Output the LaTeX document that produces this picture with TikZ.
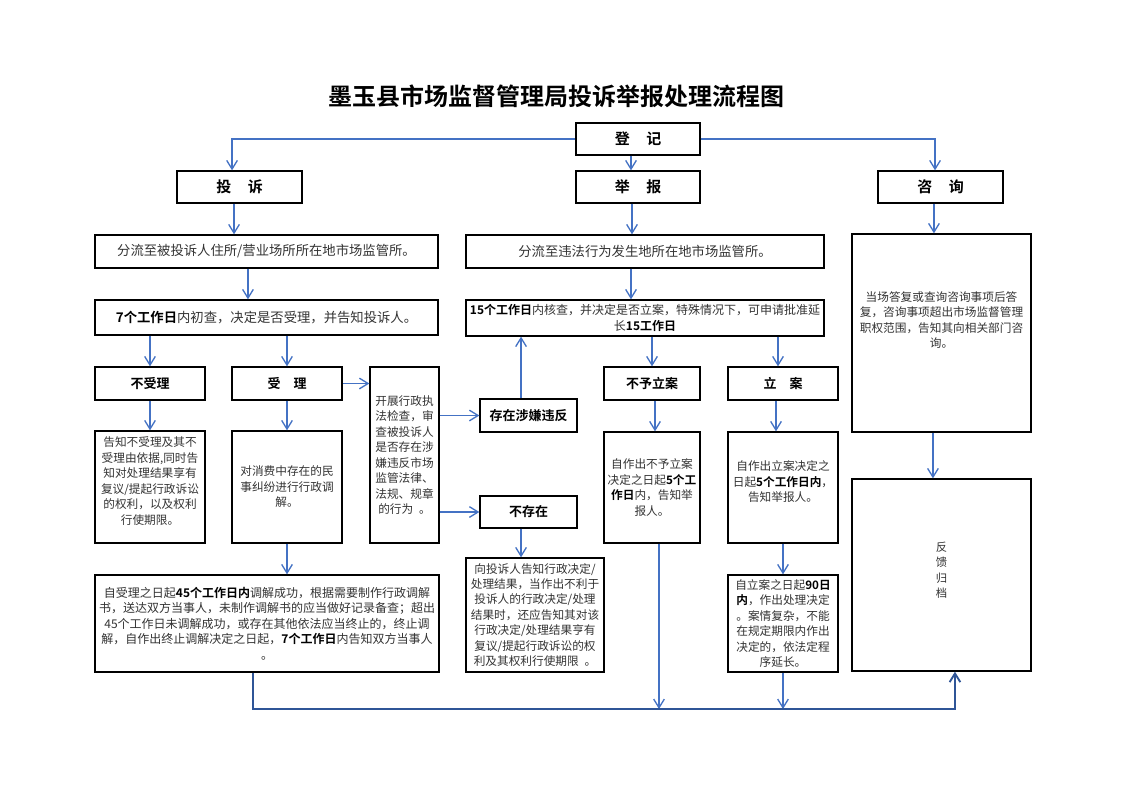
\documentclass[tikz,border=0pt]{standalone}
\usepackage{fontspec}
\setmainfont{Noto Sans CJK SC}[BoldFont={Noto Sans CJK SC Bold}]
\usetikzlibrary{arrows.meta}
\definecolor{lblue}{HTML}{4472C4}
\definecolor{dblue}{HTML}{2F5597}
\definecolor{txtgray}{HTML}{333333}
\begin{document}
\begin{tikzpicture}[x=0.75pt,y=-0.75pt,
  fcbox/.style={draw=black, line width=1pt, inner sep=0pt, align=center},
  toplbl/.style={fcbox, font=\fontsize{11.25}{13}\selectfont\bfseries},
  lbl/.style={fcbox, font=\fontsize{9.75}{12}\selectfont\bfseries},
  wtxt/.style={fcbox, font=\fontsize{10}{11.6}\selectfont, text=txtgray},
  ntxt/.style={fcbox, font=\fontsize{8.75}{11.6}\selectfont, text=txtgray},
  freetxt/.style={inner sep=0pt, align=center, font=\fontsize{8.75}{11.6}\selectfont, text=txtgray},
  arr/.style={draw=lblue, line width=1pt, -{Straight Barb[length=6.5pt,width=8pt]}},
  arrd/.style={draw=dblue, line width=1.4pt, -{Straight Barb[length=6.5pt,width=8pt]}},
]
\useasboundingbox[fill=white] (0,0) rectangle (1122,793);

% title
\node[font=\fontsize{18}{22}\selectfont\bfseries] (title) at (556,96) {墨玉县市场监督管理局投诉举报处理流程图};

% top row
\node[toplbl, minimum width=93pt, minimum height=24pt] (dj) at (638,139) {登\hspace{1.1em}记};
\node[toplbl, minimum width=93.75pt, minimum height=24pt] (ts) at (239.5,187) {投\hspace{1.1em}诉};
\node[toplbl, minimum width=93pt, minimum height=24pt] (jb) at (638,187) {举\hspace{1.1em}报};
\node[toplbl, minimum width=93.75pt, minimum height=24pt] (zx) at (940.5,187) {咨\hspace{1.1em}询};

% 分流 and 初查
\node[wtxt, minimum width=257.25pt, minimum height=24.75pt] (fl1) at (266.5,251.5) {分流至被投诉人住所/营业场所所在地市场监管所。};
\node[wtxt, minimum width=268.5pt, minimum height=24.75pt] (fl2) at (645,251.5) {分流至违法行为发生地所在地市场监管所。};
\node[wtxt, minimum width=257.25pt, minimum height=26.25pt] (cs1) at (266.5,317.5) {\textbf{\color{black}7个工作日}内初查，决定是否受理，并告知投诉人。};
\node[fcbox, font=\fontsize{9}{11.6}\selectfont, text=txtgray, minimum width=268.5pt, minimum height=27pt] (cs2) at (645,318) {\textbf{\color{black}15个工作日}内核查，并决定是否立案，特殊情况下，可申请批准延\\长\textbf{\color{black}15工作日}};

% complaint branch
\node[lbl, minimum width=82.5pt, minimum height=24.75pt] (bsl) at (150,383.5) {不受理};
\node[lbl, minimum width=82.5pt, minimum height=24.75pt] (sl) at (287,383.5) {受\hspace{1em}理};
\node[ntxt, minimum width=51.75pt, minimum height=132pt] (kz) at (404.5,455) {开展行政执\\法检查，审\\查被投诉人\\是否存在涉\\嫌违反市场\\监管法律、\\法规、规章\\的行为\hspace{0.5em}。};
\node[fcbox, minimum width=82.5pt, minimum height=84pt] (bsld) at (150,487) {};
\node[freetxt] (bsldt) at (150,481) {告知不受理及其不\\受理由依据,同时告\\知对处理结果享有\\复议/提起行政诉讼\\的权利，以及权利\\行使期限。};
\node[ntxt, minimum width=82.5pt, minimum height=84pt] (sld) at (287,487) {对消费中存在的民\\事纠纷进行行政调\\解。};
\node[fcbox, font=\fontsize{9}{11.6}\selectfont, text=txtgray, minimum width=258pt, minimum height=72.75pt] (tj) at (267,623.5) {自受理之日起\textbf{\color{black}45个工作日内}调解成功，根据需要制作行政调解\\书，送达双方当事人，未制作调解书的应当做好记录备查；超出\\45个工作日未调解成功，或存在其他依法应当终止的，终止调\\解，自作出终止调解决定之日起，\textbf{\color{black}7个工作日}内告知双方当事人\\。};

\node[lbl, minimum width=72.75pt, minimum height=24.75pt] (czwf) at (528.5,415.5) {存在涉嫌违反};
\node[lbl, minimum width=72.75pt, minimum height=24pt] (bcz) at (528.5,512) {不存在};
\node[ntxt, minimum width=103.5pt, minimum height=85.5pt] (xts) at (535,615) {向投诉人告知行政决定/\\处理结果，当作出不利于\\投诉人的行政决定/处理\\结果时，还应告知其对该\\行政决定/处理结果亨有\\复议/提起行政诉讼的权\\利及其权利行使期限\hspace{0.5em}。};

% report branch
\node[lbl, minimum width=72pt, minimum height=24.75pt] (byla) at (652,383.5) {不予立案};
\node[lbl, minimum width=82.5pt, minimum height=24.75pt] (la) at (783,383.5) {立\hspace{1em}案};
\node[ntxt, minimum width=72pt, minimum height=83.25pt] (bylad) at (652,487.5) {自作出不予立案\\决定之日起\textbf{\color{black}5个工}\\\textbf{\color{black}作日}内，告知举\\报人。};
\node[fcbox, minimum width=82.5pt, minimum height=83.25pt] (lad) at (783,487.5) {};
\node[freetxt] (ladt) at (783,482) {自作出立案决定之\\日起\textbf{\color{black}5个工作日内}，\\告知举报人。};
\node[ntxt, minimum width=82.5pt, minimum height=72.75pt] (zla) at (783,623.5) {自立案之日起\textbf{\color{black}90日}\\\textbf{\color{black}内}，作出处理决定\\。案情复杂，不能\\在规定期限内作出\\决定的，依法定程\\序延长。};

% consult branch
\node[fcbox, minimum width=134.25pt, minimum height=148.5pt] (zxd) at (941.5,333) {};
\node[freetxt] (zxdt) at (941.5,320) {当场答复或查询咨询事项后答\\复，咨询事项超出市场监督管理\\职权范围，告知其向相关部门咨\\询。};
\node[fcbox, minimum width=134.25pt, minimum height=144pt] (fk) at (941.5,575) {};
\node[freetxt, font=\fontsize{8.5}{11.6}\selectfont] (fkt) at (941.5,570) {反\\馈\\归\\档};

% helper coordinates
\coordinate (base) at (0,709);
\coordinate (p1) at ([xshift=-5.6pt]ts.north);
\coordinate (p2) at ([xshift=-5.25pt]jb.north);
\coordinate (p3) at ([xshift=-4.1pt]zx.north);
\coordinate (p4) at ([xshift=-4.1pt]ts.south);
\coordinate (p5) at ([xshift=-13.9pt]fl1.south);
\coordinate (p6) at ([xshift=-5.6pt]czwf.north);
\coordinate (p7) at ([xshift=-5.6pt]bcz.south);
\coordinate (p8) at ([xshift=-4.5pt]jb.south);
\coordinate (p9) at ([xshift=-10.5pt]fl2.south);
\coordinate (p10) at ([xshift=-3.75pt]la.north);
\coordinate (p11) at ([xshift=2.25pt]byla.south);
\coordinate (p12) at ([xshift=-5.25pt]la.south);
\coordinate (p13) at ([xshift=-4.9pt]zx.south);
\coordinate (p14) at ([xshift=-6.4pt]zxd.south);
\coordinate (p15) at ([xshift=5.25pt]bylad.south);
\coordinate (p16) at ([xshift=-10.5pt]tj.south);
\coordinate (p17) at ([xshift=10.1pt]fk.south);

% connectors
\draw[arr] (dj.west) -| (p1);
\draw[arr] (p2 |- dj.south) -- (p2);
\draw[arr] (dj.east) -| (p3);
\draw[arr] (p4) -- (p4 |- fl1.north);
\draw[arr] (p5) -- (p5 |- cs1.north);
\draw[arr] (bsl.north |- cs1.south) -- (bsl.north);
\draw[arr] (sl.north |- cs1.south) -- (sl.north);
\draw[arr] (sl.east) -- (sl.east -| kz.west);
\draw[arr] (bsl.south) -- (bsld.north);
\draw[arr] (sl.south) -- (sld.north);
\draw[arr] (sld.south) -- (sld.south |- tj.north);
\draw[arr] (kz.east |- czwf.west) -- (czwf.west);
\draw[arr] (kz.east |- bcz.west) -- (bcz.west);
\draw[arr] (p6) -- (p6 |- cs2.south);
\draw[arr] (p7) -- (p7 |- xts.north);
\draw[arr] (p8) -- (p8 |- fl2.north);
\draw[arr] (p9) -- (p9 |- cs2.north);
\draw[arr] (byla.north |- cs2.south) -- (byla.north);
\draw[arr] (p10 |- cs2.south) -- (p10);
\draw[arr] (p11) -- (p11 |- bylad.north);
\draw[arr] (p12) -- (p12 |- lad.north);
\draw[arr] (lad.south) -- (zla.north);
\draw[arr] (p13) -- (p13 |- zxd.north);
\draw[arr] (p14) -- (p14 |- fk.north);
\draw[arr] (p15) -- (p15 |- base);
\draw[arr] (zla.south) -- (zla.south |- base);
\draw[arrd] (p16) -- (p16 |- base) -- (p17 |- base) -- (p17);
\end{tikzpicture}
\end{document}
